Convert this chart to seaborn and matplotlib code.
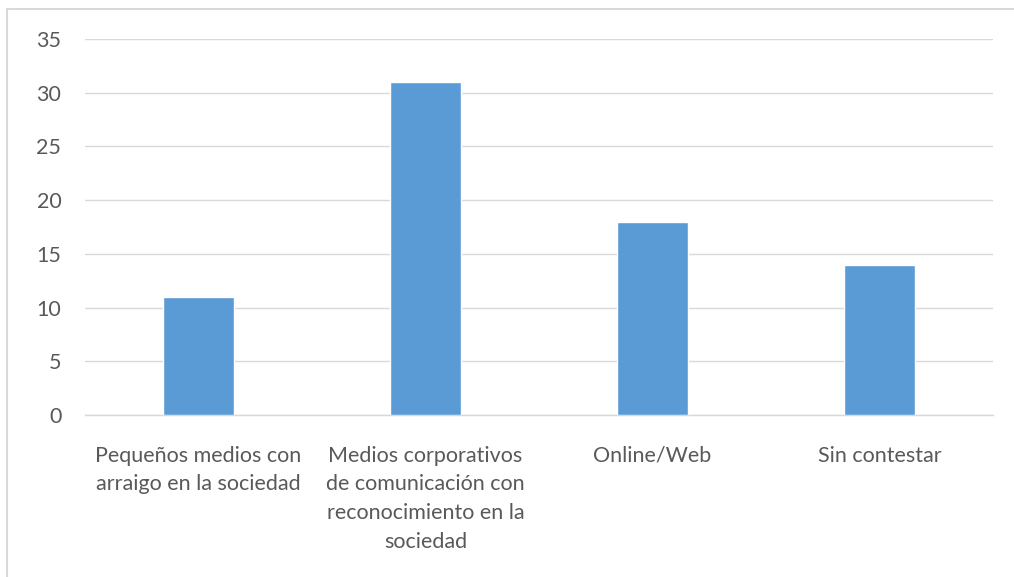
import matplotlib
matplotlib.use('Agg')
import matplotlib.pyplot as plt
import seaborn as sns
import pandas as pd
from matplotlib.patches import Rectangle

# Data
categorias = [
    'Pequeños medios con\narraigo en la sociedad',
    'Medios corporativos\nde comunicación con\nreconocimiento en la\nsociedad',
    'Online/Web',
    'Sin contestar',
]
valores = [11, 31, 18, 14]
yticks = [0, 5, 10, 15, 20, 25, 30, 35]

df = pd.DataFrame({'categoria': categorias, 'valor': valores})

sns.set_style('white')
plt.rcParams['font.family'] = ['Lato', 'DejaVu Sans']

fig = plt.figure(figsize=(10.14, 5.77), dpi=100)
ax = fig.add_axes([0.0838, 0.2808, 0.8955, 0.6516])

sns.barplot(data=df, x='categoria', y='valor', color='#5B9BD5', saturation=1,
            width=0.31, ax=ax, zorder=3)

ax.set_ylim(0, 35)
ax.set_yticks(yticks)
ax.set_xlim(-0.5, 3.5)
ax.grid(axis='y', color='#D9D9D9', linewidth=1, zorder=0)
for s in ['top', 'right', 'left']:
    ax.spines[s].set_visible(False)
ax.spines['bottom'].set_color('#D9D9D9')
ax.spines['bottom'].set_linewidth(1)
ax.set_xlabel('')
ax.set_ylabel('')
ax.tick_params(axis='both', length=0, labelsize=15.5, colors='#595959')
ax.tick_params(axis='y', pad=17)
ax.tick_params(axis='x', pad=22)
for lbl in ax.get_xticklabels():
    lbl.set_linespacing(1.55)
    lbl.set_va('top')

# light outer border of the chart (only top/left visible in the crop)
fig.patches.append(Rectangle((7 / 1014, -0.1), 1.2, 1 - 9 / 577 + 0.1,
                             transform=fig.transFigure, fill=False,
                             edgecolor='#D9D9D9', linewidth=1.5))

fig.savefig('out.png', dpi=100)
